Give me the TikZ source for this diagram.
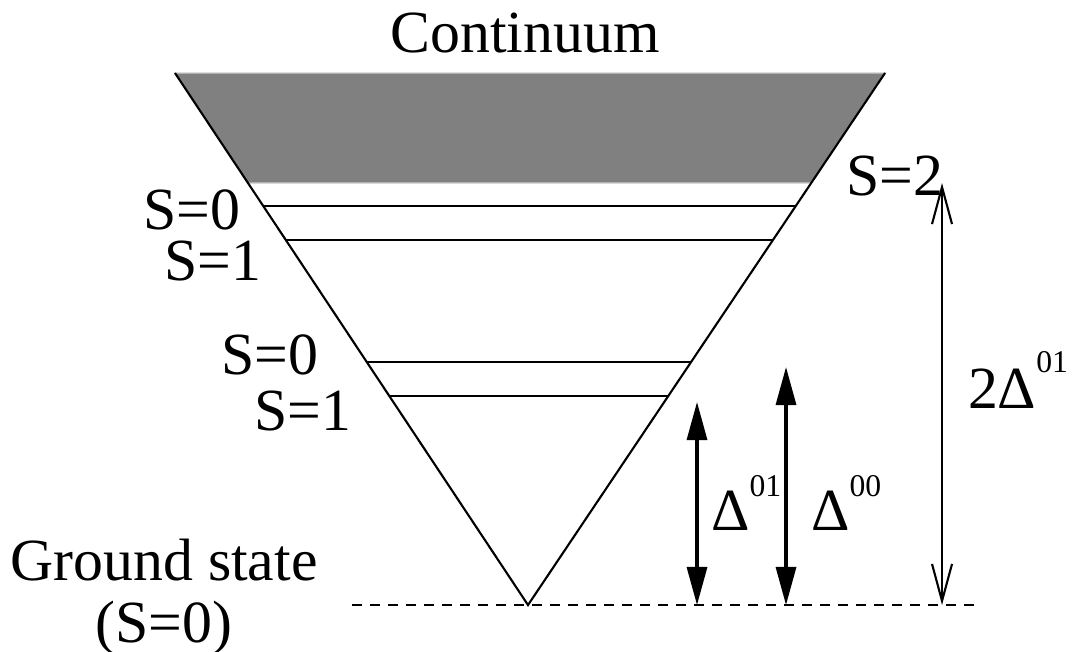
\documentclass[tikz,border=0pt]{standalone}
\usepackage{fontspec}
\setmainfont{Liberation Serif}
\usetikzlibrary{arrows.meta}
\definecolor{contfill}{HTML}{808080}
\definecolor{contedge}{HTML}{CCCCCC}

\begin{document}
\begin{tikzpicture}[x=0.01cm, y=-0.01cm, line width=0.6pt,
  every node/.style={inner sep=0pt, font=\fontsize{17}{17.6}\selectfont},
  spinlabel/.style={anchor=base west, text height=0.42cm, text depth=0pt},
  level/.style={line width=0.8pt},
  gaparrow/.style={line width=0.9pt,
    {Triangle[length=0.38cm,width=0.2cm]}-{Triangle[length=0.38cm,width=0.2cm]}},
  widearrow/.style={line width=0.6pt,
    {Straight Barb[length=0.37cm,width=0.2cm]}-{Straight Barb[length=0.37cm,width=0.2cm]}}]

%%=== COORDINATE PLAN (1 unit = 1 px, y downwards) =================
%%  cone: top corners (175,73) (885,73), apex (528,605)
%%  continuum band: y = 73 .. 183
%%  levels: y = 206, 240 (upper pair), 362, 396 (lower pair)
%%  ground line: y = 605,  x = 352 .. 975
%%==================================================================
\useasboundingbox (0,0) rectangle (1080,651);

%% --- cone ----------------------------------------------------------
\coordinate (topL)  at (175,73);
\coordinate (topR)  at (885,73);
\coordinate (apex)  at (528,605);
\coordinate (contL) at (248.0,183);
\coordinate (contR) at (811.2,183);

%% continuum band
\fill[contfill, draw=contedge, line width=0.4pt]
  (topL) -- (topR) -- (contR) -- (contL) -- cycle;

\draw (topL) -- (apex) -- (topR);

%% --- levels --------------------------------------------------------
\coordinate (uS0L) at (263.3,206);  \coordinate (uS0R) at (795.7,206);
\coordinate (uS1L) at (285.8,240);  \coordinate (uS1R) at (772.9,240);
\coordinate (lS0L) at (366.8,362);  \coordinate (lS0R) at (691.1,362);
\coordinate (lS1L) at (389.3,396);  \coordinate (lS1R) at (668.3,396);
\draw[level] (uS0L) -- (uS0R);
\draw[level] (uS1L) -- (uS1R);
\draw[level] (lS0L) -- (lS0R);
\draw[level] (lS1L) -- (lS1R);

%% --- ground line ---------------------------------------------------
\coordinate (gndL) at (352,605);
\coordinate (gndR) at (975,605);
\draw[dash pattern=on 0.1cm off 0.08cm] (gndL) -- (gndR);

%% --- gap arrows ----------------------------------------------------
\coordinate (g01top) at (697,402);  \coordinate (g01bot) at (697,605);
\coordinate (g00top) at (786,367);  \coordinate (g00bot) at (786,605);
\coordinate (g2top)  at (942,183);  \coordinate (g2bot)  at (942,605);
\draw[gaparrow]  (g01top) -- (g01bot);
\draw[gaparrow]  (g00top) -- (g00bot);
\draw[widearrow] (g2top)  -- (g2bot);

%% --- labels --------------------------------------------------------
\node[anchor=base] (cont) at (525,52) {Continuum};
\node[spinlabel] (uS0) at (142,229) {S=0};
\node[spinlabel] (uS1) at (163,280) {S=1};
\node[spinlabel] (lS0) at (220,374) {S=0};
\node[spinlabel] (lS1) at (253,430) {S=1};
\node[spinlabel] (S2)  at (845,195) {S=2};
\node[anchor=base, align=center] (gnd) at (164,642) {Ground state\\(S=0)};

\node[anchor=base west] (d01) at (710,530)
  {Δ\raisebox{0.33cm}{\fontsize{9}{9}\selectfont 01}};
\node[anchor=base west] (d00) at (810,530)
  {Δ\raisebox{0.33cm}{\fontsize{9}{9}\selectfont 00}};
\node[anchor=base west] (d2)  at (967,408)
  {2Δ\raisebox{0.35cm}{\fontsize{9}{9}\selectfont 01}};

\end{tikzpicture}
\end{document}
